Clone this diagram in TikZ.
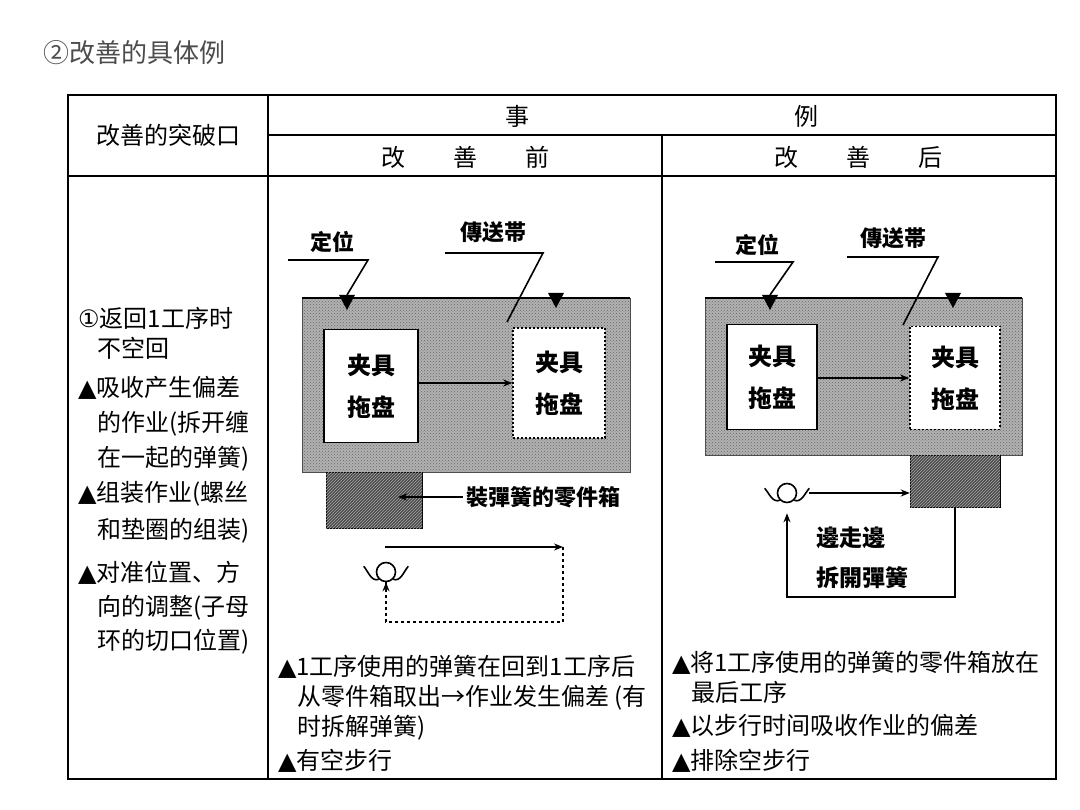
\documentclass[tikz,border=0pt]{standalone}
\usepackage{fontspec}
\setmainfont{Noto Sans CJK SC}
\newfontfamily\dejavu{DejaVu Sans}
\usetikzlibrary{arrows.meta,patterns}
\newcommand{\tri}{{\dejavu ▲}}
\newcommand{\ind}{\hspace*{19pt}}

\begin{document}
\begin{tikzpicture}[
  x=1pt, y=-1pt,
  >={Stealth[length=9pt,width=7pt]},
  rule/.style={line width=1.5pt},
  wire/.style={line width=1.6pt},
  head/.style={font=\fontsize{24}{28}\selectfont},
  item/.style={anchor=west, align=left, inner sep=0pt, font=\fontsize{24}{35}\selectfont},
  note/.style={anchor=west, align=left, inner sep=0pt, font=\fontsize{24}{30}\selectfont},
  band/.style={draw=black!70, fill=gray!60, inner sep=0pt, postaction={pattern=crosshatch dots, pattern color=black!60}},
  jig/.style={draw, line width=1.6pt, fill=white, align=center, font=\bfseries\fontsize{24}{42}\selectfont},
  jignext/.style={jig, dash pattern=on 2pt off 2pt},
  parts/.style={draw, fill=black!70, inner sep=0pt, postaction={pattern=north east lines, pattern color=gray!70}},
  worker/.style={circle, draw, wire, minimum size=19pt, inner sep=0pt},
  tag/.style={font=\bfseries\fontsize{22}{24}\selectfont},
  walk/.style={wire, dash pattern=on 3pt off 3pt}
]
\useasboundingbox (0,0) rectangle (1080,810);

% Title
\node[anchor=west, text=black!70, font=\fontsize{26}{30}\selectfont] (title) at (40,53) {②改善的具体例};

% Table frame
\draw[line width=2.5pt] (68,95) rectangle (1056,779);
\draw[rule] (268,95) -- (268,779);
\draw[rule] (268,135) -- (1056,135);
\draw[rule] (662,135) -- (662,779);
\draw[line width=2pt] (68,176) -- (1056,176);

% Header
\node[head] (key) at (168,135) {改善的突破口};
\node[head] (shi) at (517,116) {事};
\node[head] (li) at (806,116) {例};
\node[head] (before) at (465,157) {改\hspace{48pt}善\hspace{48pt}前};
\node[head] (after) at (858,157) {改\hspace{48pt}善\hspace{48pt}后};

% Left column
\node[item, font=\fontsize{24}{30}\selectfont] (k1) at (78,333) {{\dejavu ①}返回1工序时\\\ind 不空回};
\node[item] (k2) at (78,424) {\tri 吸收产生偏差\\\ind 的作业(拆开缠\\\ind 在一起的弹簧)};
\node[item, font=\fontsize{24}{37}\selectfont] (k3) at (78,512) {\tri 组装作业(螺丝\\\ind 和垫圈的组装)};
\node[item, font=\fontsize{24}{34}\selectfont] (k4) at (78,608) {\tri 对准位置、方\\\ind 向的调整(子母\\\ind 环的切口位置)};

% Before: conveyor
\node[band, minimum width=328pt, minimum height=174pt] (belt1) at (466,385) {};
\draw[line width=2pt] (belt1.north west) -- (belt1.north east);
\node[jig, minimum width=94pt, minimum height=113pt] (jig1) at (371,386) {夹具\\拖盘};
\node[jignext, minimum width=92pt, minimum height=110pt] (jig2) at (559,383) {夹具\\拖盘};
\draw[->, wire] (jig1.east |- jig2) -- (jig2.west);

% Before: marks and leaders
\coordinate (mark1) at (347,295);
\coordinate (mark2) at (556,293);
\fill ([xshift=-8pt]mark1) -- ([xshift=8pt]mark1) -- ++(-8,15) -- cycle;
\fill ([xshift=-8pt]mark2) -- ([xshift=8pt]mark2) -- ++(-8,15) -- cycle;
\node[tag] (pos1) at (332,242) {定位};
\coordinate (pos1a) at (288,260);
\coordinate (pos1b) at (368,260);
\draw[wire] (pos1a) -- (pos1b) -- (mark1);
\node[tag] (conv1) at (493,232) {傳送帯};
\coordinate (conv1a) at (445,253);
\coordinate (conv1b) at (543,253);
\coordinate (conv1c) at (507,322);
\draw[wire] (conv1a) -- (conv1b) -- (conv1c);

% Before: parts box
\node[parts, minimum width=96pt, minimum height=56pt] (box1) at (374,500) {};
\node[tag, anchor=west] (box1lab) at (463,497) {裝彈簧的零件箱};
\coordinate (box1in) at (398,497);
\draw[->, wire] (box1lab) -- (box1in);

% Before: walking path
\coordinate (walk1a) at (385,547);
\coordinate (walk1b) at (563,547);
\draw[->, wire] (walk1a) -- (walk1b);
\node[worker] (w1) at (386,572) {};
\draw[wire] (w1.south west) to[out=200,in=-50] ++(-15,-13);
\draw[wire] (w1.south east) to[out=-20,in=230] ++(15,-13);
\draw[wire] (w1.south) -- ++(0,6);
\draw[walk, ->] (walk1b) -- ++(0,75) -| (w1.south);

% After: conveyor
\node[band, minimum width=317pt, minimum height=157pt] (belt2) at (863.5,376.5) {};
\draw[line width=2pt] (belt2.north west) -- (belt2.north east);
\node[jig, minimum width=90pt, minimum height=105pt] (jig3) at (772,377) {夹具\\拖盘};
\node[jignext, minimum width=90pt, minimum height=103pt] (jig4) at (955,378) {夹具\\拖盘};
\draw[->, wire] (jig3.east |- jig4) -- (jig4.west);

% After: marks and leaders
\coordinate (mark3) at (770,295);
\coordinate (mark4) at (953,293);
\fill ([xshift=-8pt]mark3) -- ([xshift=8pt]mark3) -- ++(-8,15) -- cycle;
\fill ([xshift=-8pt]mark4) -- ([xshift=8pt]mark4) -- ++(-8,15) -- cycle;
\node[tag] (pos2) at (757,245) {定位};
\coordinate (pos2a) at (715,262);
\coordinate (pos2b) at (793,262);
\draw[wire] (pos2a) -- (pos2b) -- (mark3);
\node[tag] (conv2) at (893,238) {傳送帯};
\coordinate (conv2a) at (847,257);
\coordinate (conv2b) at (938,257);
\coordinate (conv2c) at (903,325);
\draw[wire] (conv2a) -- (conv2b) -- (conv2c);

% After: parts box and loop
\node[parts, minimum width=90pt, minimum height=52pt] (box2) at (955,481) {};
\node[worker] (w2) at (787,493) {};
\draw[wire] (w2.south west) to[out=200,in=-50] ++(-15,-12);
\draw[wire] (w2.south east) to[out=-20,in=230] ++(15,-12);
\draw[->, wire] ([xshift=12pt]w2.east) -- (w2 -| box2.west);
\draw[->, wire, shorten >=10pt] (box2.south) -- ++(0,90) -| (w2.south);
\node[tag, anchor=west, align=left, font=\bfseries\fontsize{23}{40}\selectfont] (walk2) at (813,558) {邊走邊\\拆開彈簧};

% Bottom notes
\node[note] (b1) at (278,698) {\tri 1工序使用的弹簧在回到1工序后\\\ind 从零件箱取出→作业发生偏差 (有\\\ind 时拆解弹簧)};
\node[note] (b2) at (278,761) {\tri 有空步行};
\node[note] (a1) at (672,677) {\tri 将1工序使用的弹簧的零件箱放在\\\ind 最后工序};
\node[note] (a2) at (672,726) {\tri 以步行时间吸收作业的偏差};
\node[note] (a3) at (672,761) {\tri 排除空步行};
\end{tikzpicture}
\end{document}
